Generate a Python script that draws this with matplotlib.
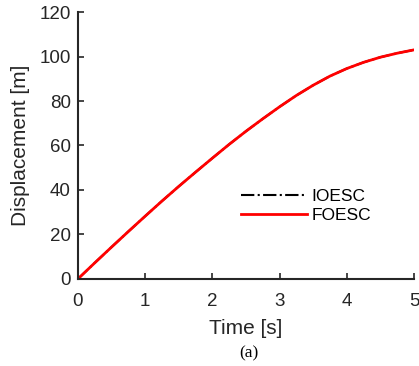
import matplotlib.pyplot as plt

# time [s] and displacement [m]
time = [0, 0.25, 0.5, 0.75, 1, 1.25, 1.5, 1.75, 2, 2.25, 2.5, 2.75,
        3, 3.25, 3.5, 3.75, 4, 4.25, 4.5, 4.75, 5]
ioesc = [0, 7.2, 14.3, 21.3, 28.2, 35, 41.6, 48, 54.3, 60.5, 66.4, 72,
         77.4, 82.5, 87.1, 91.2, 94.6, 97.4, 99.7, 101.5, 103]
foesc = [0, 7.2, 14.3, 21.3, 28.2, 35, 41.6, 48, 54.3, 60.5, 66.4, 72,
         77.4, 82.5, 87.1, 91.2, 94.6, 97.4, 99.7, 101.5, 103]

plt.rcParams['font.family'] = ['Liberation Sans', 'DejaVu Sans']
dark = '#262626'

fig = plt.figure(figsize=(4.19, 3.66), dpi=100)
ax = fig.add_axes([0.186, 0.238, 0.802, 0.729])

ax.plot(time, ioesc, color='black', linestyle='-.', linewidth=1.5, label='IOESC')
ax.plot(time, foesc, color='red', linestyle='-', linewidth=2.0, label='FOESC')

ax.set_xlim(0, 5)
ax.set_ylim(0, 120)
ax.set_xticks(range(0, 6))
ax.set_yticks(range(0, 121, 20))
ax.set_xlabel('Time [s]', fontsize=15, color=dark, labelpad=6)
ax.set_ylabel('Displacement [m]', fontsize=15, color=dark, labelpad=7)

for side in ['top', 'right']:
    ax.spines[side].set_visible(False)
for side in ['left', 'bottom']:
    ax.spines[side].set_color(dark)
    ax.spines[side].set_linewidth(1.5)
ax.tick_params(direction='in', length=4, width=1.2, colors=dark, labelsize=13.5)
ax.tick_params(axis='x', pad=10.5)
ax.tick_params(axis='y', pad=5)

ax.legend(loc='center left', bbox_to_anchor=(0.44, 0.274), frameon=False,
          fontsize=12.5, handlelength=3.8, handletextpad=0.25, labelspacing=0.25)

fig.text(0.594, 0.034, '(a)', fontsize=12.5, family='Liberation Serif',
         ha='center', va='center', color='black')

fig.savefig('out.png', dpi=100)
